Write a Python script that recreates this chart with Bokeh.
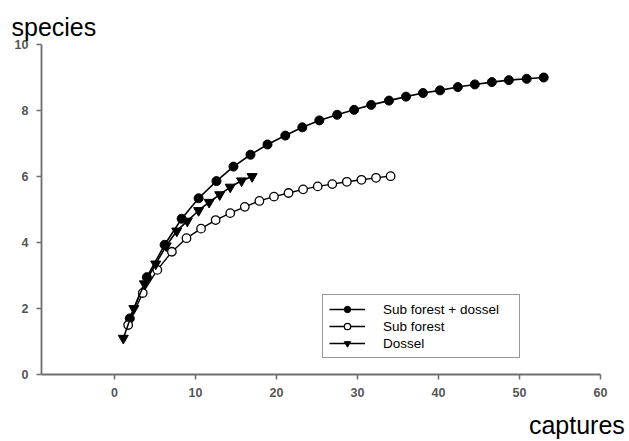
from bokeh.plotting import figure
from bokeh.models import Range1d, FixedTicker, Title
from bokeh.embed import file_html
from bokeh.resources import INLINE

# Sub forest + dossel
both_x = [1.9, 4.0, 6.2, 8.3, 10.4, 12.6, 14.7, 16.8, 18.9, 21.1, 23.2, 25.3, 27.5,
          29.6, 31.7, 33.9, 36.0, 38.1, 40.2, 42.4, 44.5, 46.6, 48.7, 50.9, 53.0]
both_y = [1.7, 2.95, 3.93, 4.72, 5.34, 5.86, 6.3, 6.66, 6.97, 7.24, 7.49, 7.70, 7.87,
          8.02, 8.17, 8.30, 8.42, 8.53, 8.61, 8.71, 8.79, 8.86, 8.92, 8.96, 9.0]
# Sub forest
sub_x = [1.7, 3.5, 5.3, 7.1, 8.9, 10.7, 12.5, 14.3, 16.1, 17.9, 19.7, 21.5, 23.3,
         25.1, 26.9, 28.7, 30.5, 32.3, 34.1]
sub_y = [1.5, 2.47, 3.17, 3.72, 4.13, 4.42, 4.68, 4.89, 5.08, 5.26, 5.39, 5.5, 5.61,
         5.7, 5.77, 5.84, 5.9, 5.96, 6.01]
# Dossel
dos_x = [1.1, 2.4, 3.7, 5.1, 6.4, 7.7, 9.0, 10.4, 11.7, 13.0, 14.3, 15.7, 17.0]
dos_y = [1.1, 2.0, 2.75, 3.35, 3.9, 4.35, 4.65, 4.97, 5.22, 5.45, 5.68, 5.87, 6.0]

x_ticks = [0, 10, 20, 30, 40, 50, 60]
y_ticks = [0, 2, 4, 6, 8, 10]
labels = ["Sub forest + dossel", "Sub forest", "Dossel"]

p = figure(width=629, height=441, output_backend="svg", toolbar_location=None,
           x_range=Range1d(-9, 63.1), y_range=Range1d(0, 10),
           min_border_left=41, min_border_right=4, min_border_top=44,
           min_border_bottom=67)
p.title.visible = False
p.outline_line_color = None
p.grid.visible = False
p.background_fill_color = "white"

for ax in (p.xaxis, p.yaxis):
    ax.axis_line_color = "#6e6e6e"
    ax.axis_line_width = 1.8
    ax.major_tick_line_color = "#6e6e6e"
    ax.major_tick_line_width = 1.5
    ax.major_tick_in = 0
    ax.major_tick_out = 5
    ax.minor_tick_line_color = None
    ax.major_label_text_font = "Liberation Sans"
    ax.major_label_text_font_size = "12.5px"
    ax.major_label_text_font_style = "bold"
    ax.major_label_text_color = "#555555"
    ax.major_label_standoff = 8
p.xaxis.ticker = FixedTicker(ticks=x_ticks)
p.yaxis.ticker = FixedTicker(ticks=y_ticks)
p.xaxis.bounds = (-9, 60)

# label centred on the axis end; trailing no-break spaces move the word left
p.xaxis.axis_label = "captures" + "\u00a0" * 14
p.xaxis.axis_label_align = "end"
p.xaxis.axis_label_standoff = 11
p.xaxis.axis_label_text_font = "Liberation Sans"
p.xaxis.axis_label_text_font_size = "25px"
p.xaxis.axis_label_text_font_style = "normal"
p.xaxis.axis_label_text_color = "black"

p.line(both_x, both_y, line_color="black", line_width=1.6, legend_label=labels[0])
p.scatter(both_x, both_y, marker="circle", size=9, fill_color="black",
          line_color="black", legend_label=labels[0])

p.line(sub_x, sub_y, line_color="black", line_width=1.4, legend_label=labels[1])
p.scatter(sub_x, sub_y, marker="circle", size=8.5, fill_color="white",
          line_color="black", line_width=1.3, legend_label=labels[1])

p.line(dos_x, dos_y, line_color="black", line_width=1.6, legend_label=labels[2])
p.scatter(dos_x, dos_y, marker="inverted_triangle", size=10, fill_color="black",
          line_color="black", legend_label=labels[2])

lg = p.legend[0]
lg.location = (281, 16)
lg.border_line_color = "#333333"
lg.border_line_width = 1.3
lg.background_fill_alpha = 1.0
lg.padding = 6
lg.margin = 0
lg.spacing = 1
lg.label_height = 16
lg.glyph_height = 16
lg.glyph_width = 36
lg.label_standoff = 18
lg.label_width = 130
lg.label_text_font = "Liberation Sans"
lg.label_text_font_size = "13.5px"
lg.label_text_color = "black"

p.add_layout(Title(text="species", align="left", offset=-30, text_font="Liberation Sans",
                   text_font_size="25px", text_font_style="normal", text_color="black",
                   vertical_align="top", text_line_height=0.8, standoff=4), "above")

open("out.html", "w").write(file_html(p, INLINE))
